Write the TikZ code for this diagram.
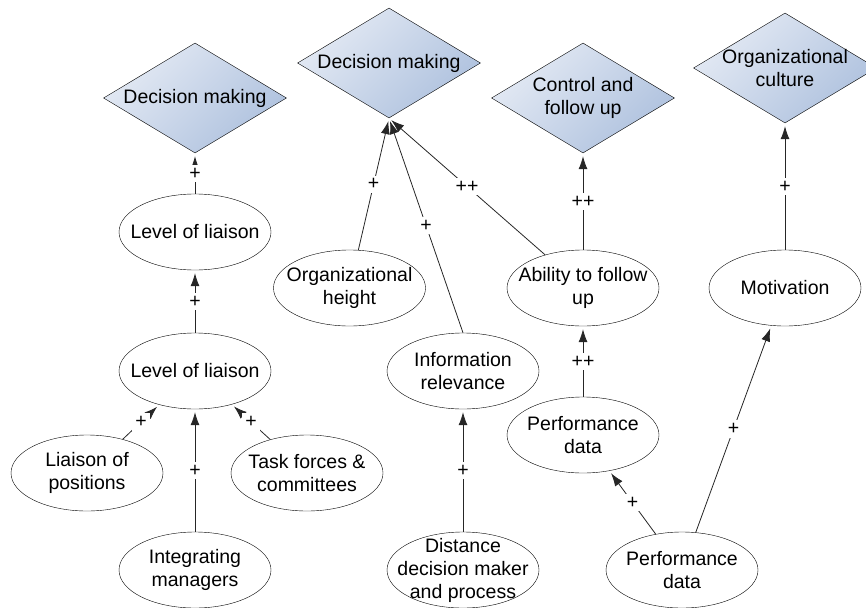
\documentclass[tikz,border=0pt]{standalone}
\usepackage{fontspec}
\setmainfont{Liberation Sans}
\usetikzlibrary{shapes.geometric, arrows.meta, positioning}
\definecolor{goaltop}{RGB}{228,234,244}
\definecolor{goalbot}{RGB}{174,193,222}

\begin{document}
\begin{tikzpicture}[x=1pt, y=-1pt, font=\fontsize{19.5}{23}\selectfont,
	goal/.style = {shape=diamond, draw, minimum width=183pt, minimum height=110pt,
		inner sep=0pt, top color=goaltop, bottom color=goalbot, shading angle=45},
	factor/.style = {shape=ellipse, draw, minimum width=152pt, minimum height=76pt,
		inner sep=0pt, fill=white},
	every label/.style = {align=center},
	link/.style = {draw=black!85, line width=0.8pt, -{Latex[length=13pt, width=9pt]}, shorten >=3pt},
	sign/.style = {fill=white, inner sep=3pt}]
	\useasboundingbox (0,0) rectangle (866,607);
	% goals
	\node[goal, label={center:Decision making}] (DM1) at (195,98) {};
	\node[goal, label={center:Decision making}] (DM2) at (389,63) {};
	\node[goal, label={center:Control and\\follow up}] (CF) at (583,98) {};
	\node[goal, label={center:Organizational\\culture}] (OC) at (785,68) {};
	% factors
	\node[factor, label={center:Level of liaison}] (LL1) at (195,232) {};
	\node[factor, label={center:Level of liaison}] (LL2) at (195,371) {};
	\node[factor, label={center:Liaison of\\positions}] (LP) at (87,473) {};
	\node[factor, label={center:Task forces \&\\committees}] (TF) at (307,473) {};
	\node[factor, label={center:Integrating\\managers}] (IM) at (195,570) {};
	\node[factor, label={center:Organizational\\height}] (OH) at (349.5,288) {};
	\node[factor, label={center:Information\\relevance}] (IR) at (463,371) {};
	\node[factor, label={center:Distance\\decision maker\\and process}] (DD) at (463,570) {};
	\node[factor, label={center:Ability to follow\\up}] (AF) at (583,288) {};
	\node[factor, label={center:Motivation}] (MO) at (785,288) {};
	\node[factor, label={center:Performance\\data}] (PD1) at (583,435) {};
	\node[factor, label={center:Performance\\data}] (PD2) at (682,570) {};
	% links
	\draw[link] (LL1) -- node[sign] {+} (DM1);
	\draw[link] (LL2) -- node[sign] {+} (LL1);
	\draw[link] (LP) -- node[sign] {+} (LL2);
	\draw[link] (TF) -- node[sign] {+} (LL2);
	\draw[link] (IM) -- node[sign] {+} (LL2);
	\draw[link] (OH) -- node[sign] {+} (DM2.south);
	\draw[link] (IR.north) -- node[sign] {+} (DM2.south);
	\draw[link] (AF) -- node[sign] {++} (DM2.south);
	\draw[link] (AF) -- node[sign] {++} (CF);
	\draw[link] (MO) -- node[sign] {+} (OC);
	\draw[link] (PD1) -- node[sign] {++} (AF);
	\draw[link] (DD) -- node[sign] {+} (IR);
	\draw[link] (PD2) -- node[sign] {+} (PD1);
	\draw[link] (PD2) -- node[sign] {+} (MO);
\end{tikzpicture}
\end{document}
